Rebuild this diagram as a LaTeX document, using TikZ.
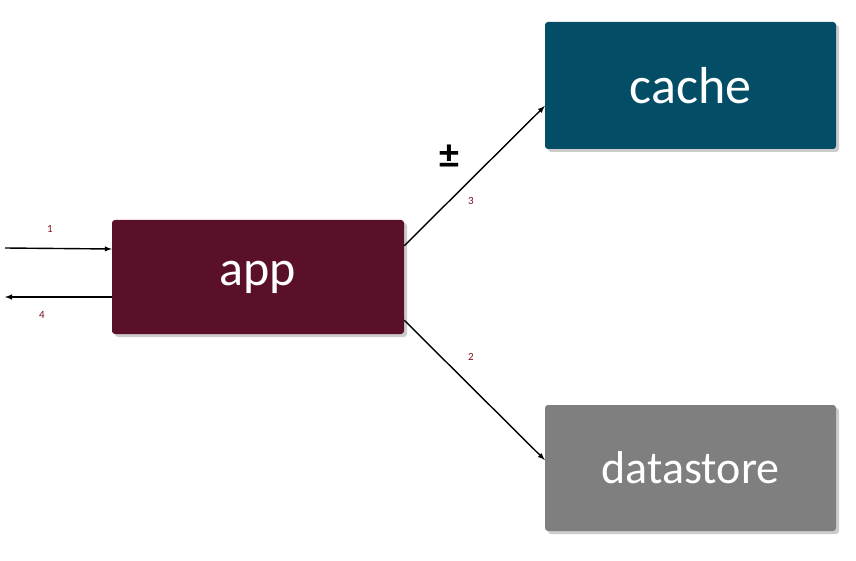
\documentclass[tikz,border=0pt]{standalone}
\usepackage{fontspec}
\setmainfont{Carlito}
\usetikzlibrary{shadows,calc}
\definecolor{appc}{HTML}{5A1029}
\definecolor{cachec}{HTML}{044D66}
\definecolor{dsc}{HTML}{7F7F7F}
\definecolor{lblc}{HTML}{7A1020}
\begin{document}
\begin{tikzpicture}[x=1pt,y=-1pt,
 box/.style={rounded corners=3pt,draw=none,text=white,inner sep=0pt,drop shadow={shadow xshift=3pt,shadow yshift=-3pt,opacity=0.4}},
 arr/.style={-latex,line width=1.4pt},
 lbl/.style={text=lblc,font=\fontsize{11}{13}\selectfont}]
\useasboundingbox (0,0) rectangle (856,561);
\node[box,fill=appc,minimum width=292pt,minimum height=114pt,font=\fontsize{50}{60}\selectfont] (app) at (258,277) {app};
\node[box,fill=cachec,minimum width=291pt,minimum height=127pt,font=\fontsize{52}{62}\selectfont] (cache) at (690.5,85.5) {cache};
\node[box,fill=dsc,minimum width=291pt,minimum height=126pt,font=\fontsize{46}{55}\selectfont] (ds) at (690.5,468) {datastore};
\coordinate (in1) at (5,248);
\coordinate (out4) at (5,297);
\draw[arr] (in1) -- (app.west |- 0,249);
\draw[arr] (app.west |- 0,297) -- (out4);
\draw[arr] ($(app.north east)+(0,26)$) -- (cache.west |- 0,106);
\draw[arr] ($(app.south east)+(0,-14)$) -- (ds.west |- 0,460);
\node[lbl] (l1) at (50,229) {1};
\node[lbl] (l4) at (42,315) {4};
\node[lbl] (l3) at (471,201) {3};
\node[lbl] (l2) at (471,357) {2};
\node[font=\fontsize{40}{44}\selectfont\bfseries] (pm) at (449,157) {±};
\end{tikzpicture}
\end{document}
